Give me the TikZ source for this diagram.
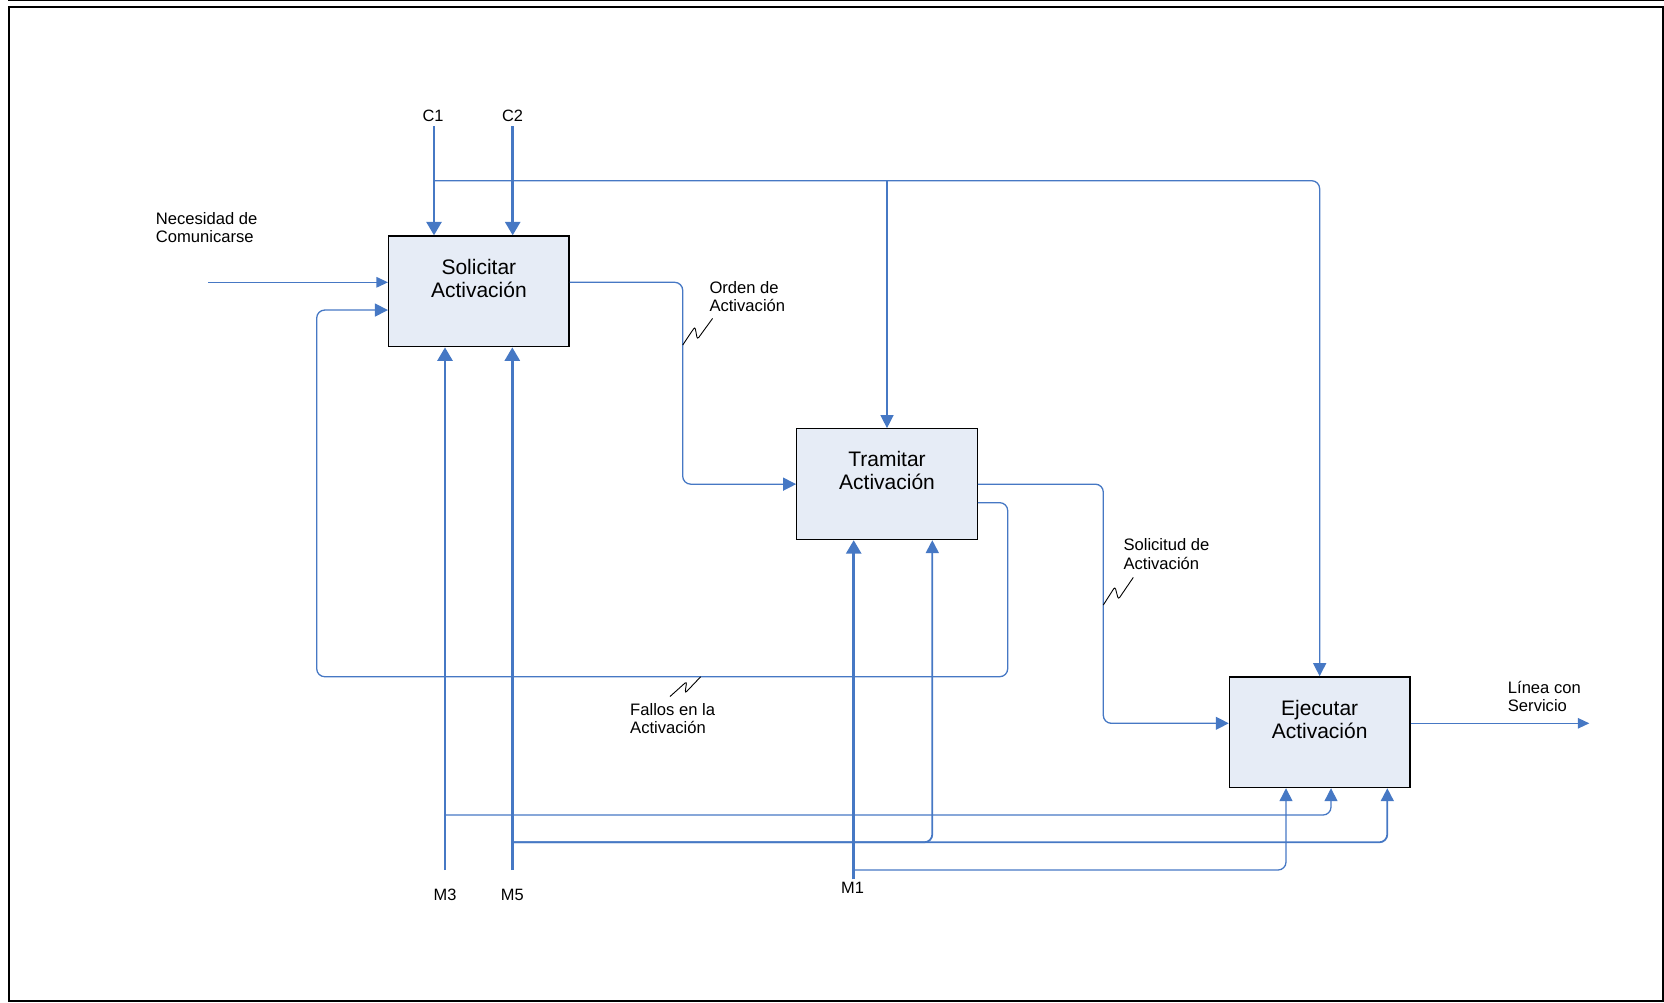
\documentclass[tikz,border=0pt]{standalone}
\usepackage{fontspec}
\setmainfont{Liberation Sans}
\usetikzlibrary{arrows.meta,calc}
\definecolor{lnblue}{RGB}{70,120,196}
\definecolor{boxfill}{RGB}{230,236,246}
\newcommand\twolL[3]{\vtop{\baselineskip=#1\relax\hbox{#2}\hbox{#3}}}
\newcommand\twolC[3]{\vtop{\baselineskip=#1\relax\halign{\hfil##\hfil\cr #2\cr #3\cr}}}
\begin{document}
\begin{tikzpicture}[x=1pt,y=-1pt,
  procbox/.style={draw=black, line width=1.3pt, fill=boxfill, minimum width=180.5pt, minimum height=110.7pt, inner sep=0pt},
  boxtxt/.style={font=\fontsize{21}{23}\selectfont, inner sep=0pt, anchor=base},
  lbl/.style={font=\fontsize{16.6}{18.6}\selectfont, inner sep=0pt, anchor=base west},
  mlbl/.style={font=\fontsize{16.4}{18}\selectfont, inner sep=0pt, anchor=base},
  fline/.style={draw=lnblue, line width=1.3pt, rounded corners=8pt},
  tline/.style={draw=lnblue, line width=2.7pt},
  bigtip/.style={-{Triangle[length=13.5pt,width=15pt]}},
  midtip/.style={-{Triangle[length=13pt,width=13pt]}},
  smalltip/.style={-{Triangle[length=11.5pt,width=10.5pt]}},
  squig/.style={draw=black, line width=0.9pt, rounded corners=2.5pt},
]
\useasboundingbox (0,0) rectangle (1664,1002);
% frame
\draw[line width=1.2pt] (8,0.7) -- (1664,0.7);
\draw[line width=2pt] (9,7) rectangle (1662.7,1000.5);

% boxes
\node[procbox] (sa) at (478.85,291.35) {};
\node[procbox] (ta) at (887,484.15) {};
\node[procbox] (ea) at (1319.65,732.2) {};
\node[boxtxt] (sat) at (478.85,274.3) {\twolC{23pt}{Solicitar}{Activación}};
\node[boxtxt] (tat) at (887,466.7) {\twolC{23pt}{Tramitar}{Activación}};
\node[boxtxt] (eat) at (1319.65,715) {\twolC{23pt}{Ejecutar}{Activación}};

% labels
\node[lbl] (nec) at (155.7,224) {\twolL{18.7pt}{Necesidad de}{Comunicarse}};
\node[lbl] (ord) at (709.3,293.3) {\twolL{18.4pt}{Orden de}{Activación}};
\node[lbl] (sol) at (1123.3,550.7) {\twolL{18.6pt}{Solicitud de}{Activación}};
\node[lbl] (fal) at (630,715) {\twolL{18pt}{Fallos en la}{Activación}};
\node[lbl] (lin) at (1507.7,693.3) {\twolL{18.4pt}{Línea con}{Servicio}};
\node[mlbl] (c1) at (433,121.7) {C1};
\node[mlbl] (c2) at (512.5,121.7) {C2};
\node[mlbl] (m3) at (445,900.7) {M3};
\node[mlbl] (m5) at (512.3,900.7) {M5};
\node[mlbl] (m1) at (852.5,893.3) {M1};

% coordinates
\coordinate (c1s) at (434,126);
\coordinate (c2s) at (512.7,126);
\coordinate (cbr) at (434,180.7);
\coordinate (nin) at (208.3,282.3);
\coordinate (k1) at (682.7,0);
\coordinate (k2) at (1103.3,0);
\coordinate (eain) at ($(ea.west)+(0,-8.9)$);
\coordinate (out) at (1589.3,723.3);
\coordinate (fbo) at ($(ta.east)+(0,18.5)$);
\coordinate (fbi) at ($(sa.west)+(0,18.7)$);
\coordinate (k3) at (1007.7,676.7);
\coordinate (k4) at (316.7,676.7);
\coordinate (m3s) at (445,870);
\coordinate (m5s) at (512.3,870);
\coordinate (m1s) at (853.7,879.3);
\coordinate (h3) at (0,815);
\coordinate (h5) at (0,842.3);
\coordinate (h1) at (0,870);
\coordinate (e1) at ($(ea.south)+(-33.65,0)$);
\coordinate (e2) at ($(ea.south)+(11.35,0)$);
\coordinate (e3) at ($(ea.south)+(67.65,0)$);
\coordinate (t2) at ($(ta.south)+(45.3,0)$);

% controls
\draw[tline,bigtip] (c1s) -- (c1s |- sa.north);
\draw[tline,bigtip] (c2s) -- (c2s |- sa.north);
\draw[fline,midtip] (cbr) -| (ea.north);
\draw[fline,midtip] (cbr -| ta.north) -- (ta.north);

% inputs / outputs
\draw[fline,smalltip] (nin) -- (nin -| sa.west);
\draw[fline,midtip] (sa.east |- nin) -| (k1 |- ta.west) -- (ta.west);
\draw[fline,midtip] (ta.east) -| (k2 |- eain) -- (eain);
\draw[fline,smalltip] (ea.east |- eain) -- (out);
\draw[fline,midtip] (fbo) -| (k3) -| (k4 |- fbi) -- (fbi);

% mechanisms
\draw[tline,bigtip] (m3s) -- (m3s |- sa.south);
\draw[tline,bigtip] (m5s) -- (m5s |- sa.south);
\draw[tline,bigtip] (m1s) -- (m1s |- ta.south);
\draw[fline,midtip] (m3s |- h3) -| (e2);
\draw[fline,line width=1.8pt,midtip] (m5s |- h5) -| (t2);
\draw[fline,line width=1.8pt,midtip] (m5s |- h5) -| (e3);
\draw[fline,midtip] (m1s |- h1) -| (e1);

% squiggles
\coordinate (sq1) at (682.7,345);
\coordinate (sq2) at (1103.3,605);
\coordinate (sq3) at (670,696.5);
\draw[squig] (sq1) -- ++(12.3,-18.3) -- ++(2.3,12.7) -- ++(15.3,-21);
\draw[squig] (sq2) -- ++(11.7,-18.3) -- ++(3.3,12.7) -- ++(15,-22);
\draw[squig] (sq3) -- ++(16.7,-15) -- ++(-1.7,11.7) -- ++(15.7,-16.5);
\end{tikzpicture}
\end{document}
